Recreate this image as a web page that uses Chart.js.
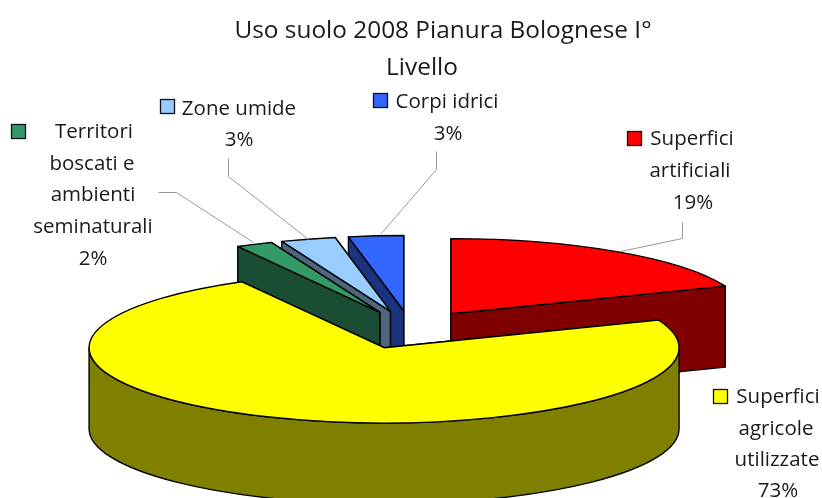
<!DOCTYPE html>
<html><head><meta charset="utf-8">
<style>html,body{margin:0;padding:0;background:#fff}canvas{display:block}</style>
<script src="https://cdn.jsdelivr.net/npm/chart.js@4"></script>
</head><body><canvas id="c" width="822" height="498"></canvas>
<script>
const categories = ['Superfici artificiali','Superfici agricole utilizzate','Territori boscati e ambienti seminaturali','Zone umide','Corpi idrici'];
const values = [19,73,2,3,3];
const topColors = ['#FF0000','#FFFF00','#339966','#99CCFF','#3366FF'];
const sideColors = ['#800000','#808000','#1A4D33','#4D6680','#1A3380'];
const titleLines = ['Uso suolo 2008 Pianura Bolognese I°','Livello'];

const FONT = '"Open Sans", sans-serif';
const TITLE = [{t:titleLines[0],x:443,y:38},{t:titleLines[1],x:422,y:75}];
const LABELS = [
 {i:0,key:[627,131],lines:[['Superfici',692,145],['artificiali',690,177],[values[0]+'%',693,209]]},
 {i:1,key:[713,389],lines:[['Superfici',778,403],['agricole',776,435],['utilizzate',777,466],[values[1]+'%',778,497]]},
 {i:2,key:[11,124],lines:[['Territori',94,138],['boscati e',92,170],['ambienti',93,201],['seminaturali',93,233],[values[2]+'%',93,265]]},
 {i:3,key:[160,99],lines:[['Zone umide',239,115],[values[3]+'%',239,146]]},
 {i:4,key:[373,93],lines:[['Corpi idrici',447,108],[values[4]+'%',448,140]]}
];
const LEADERS = [
 [[620,251],[682,238],[682,222]],
 [[380,234],[436,169],[436,151]],
 [[308,239],[228,176],[228,158]],
 [[253,242],[176,192],[158,192]]
];
const CENTER = [410.5,329], K = 0.255, DEPTH = 81, R = 295;
const EXPLODE = [72,78,72,72,72];
const ORDER = [0,4,3,2,1];

const pie3d = {
  id:'pie3d',
  beforeDatasetDraw(chart){
    const ctx = chart.ctx, meta = chart.getDatasetMeta(0);
    for (const i of ORDER){
      const el = meta.data[i];
      const a0 = el.startAngle, a1 = el.endAngle, mid = (a0+a1)/2;
      const rad = el.outerRadius;
      const dx = CENTER[0]-el.x, f = CENTER[1]-K*el.y;
      const ox = Math.cos(mid)*EXPLODE[i], oy = Math.sin(mid)*EXPLODE[i];
      const px = el.x+ox+dx, py = K*(el.y+oy)+f;
      const pt = a => [px+rad*Math.cos(a), py+K*rad*Math.sin(a)];
      ctx.save();
      ctx.lineWidth = 1.4; ctx.strokeStyle = '#000'; ctx.lineJoin = 'round';
      ctx.fillStyle = sideColors[i];
      // cut faces, the one nearer the viewer last
      const faces = [pt(a0),pt(a1)].sort((m,n)=>m[1]-n[1]);
      for (const q of faces){
        ctx.beginPath();
        ctx.moveTo(px,py); ctx.lineTo(q[0],q[1]); ctx.lineTo(q[0],q[1]+DEPTH); ctx.lineTo(px,py+DEPTH); ctx.closePath();
        ctx.fill(); ctx.stroke();
      }
      // outer wall: the part of the rim facing the viewer
      let s = a0, e = a1;
      if (s<0 && e>0) s = 0;
      if (e>Math.PI && s<Math.PI) e = Math.PI;
      if (s>=0 && s<=Math.PI && e>s){
        ctx.beginPath();
        ctx.ellipse(px,py,rad,K*rad,0,s,e,false);
        ctx.ellipse(px,py+DEPTH,rad,K*rad,0,e,s,true);
        ctx.closePath(); ctx.fill(); ctx.stroke();
      }
      // top face through the library's arc element
      ctx.save();
      ctx.transform(1,0,0,K,dx,f);
      ctx.translate(ox,oy);
      el.draw(ctx);
      ctx.restore();
      ctx.beginPath();
      ctx.moveTo(px,py);
      ctx.ellipse(px,py,rad,K*rad,0,a0,a1,false);
      ctx.closePath(); ctx.stroke();
      ctx.restore();
    }
    return false;
  },
  afterDraw(chart){
    const ctx = chart.ctx;
    ctx.save();
    ctx.strokeStyle = '#999'; ctx.lineWidth = 1;
    for (const l of LEADERS){
      ctx.beginPath();
      l.forEach((p,j)=> j? ctx.lineTo(p[0]+.5,p[1]+.5):ctx.moveTo(p[0]+.5,p[1]+.5));
      ctx.stroke();
    }
    ctx.fillStyle = '#1a1a1a'; ctx.textAlign='center'; ctx.textBaseline='alphabetic';
    ctx.font = '400 24.4px '+FONT;
    for (const t of TITLE) ctx.fillText(t.t,t.x,t.y);
    ctx.font = '400 20.5px '+FONT;
    for (const lb of LABELS){
      ctx.fillStyle = topColors[lb.i]; ctx.strokeStyle='#111'; ctx.lineWidth=1.3;
      ctx.fillRect(lb.key[0]+.5,lb.key[1]+.5,14,14); ctx.strokeRect(lb.key[0]+.5,lb.key[1]+.5,14,14);
      ctx.fillStyle='#1a1a1a';
      for (const [t,x,y] of lb.lines) ctx.fillText(t,x,y);
    }
    ctx.restore();
  }
};

new Chart(document.getElementById('c'),{
  type:'pie',
  data:{labels:categories,datasets:[{data:values,backgroundColor:topColors,borderWidth:0,clip:false}]},
  options:{responsive:false,animation:false,radius:R,
    layout:{padding:0},
    plugins:{legend:{display:false},title:{display:false},tooltip:{enabled:false}}},
  plugins:[pie3d]
});
</script></body></html>
